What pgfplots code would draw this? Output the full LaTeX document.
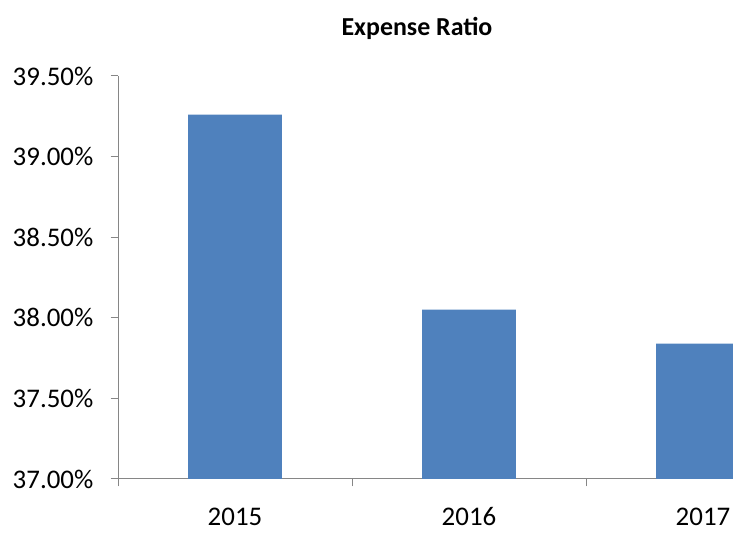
\documentclass[border=0pt]{standalone}
\usepackage{pgfplots}
\pgfplotsset{compat=1.18}
\usepackage{fontspec}
\setmainfont{Carlito}
\definecolor{barblue}{HTML}{4F81BD}
\definecolor{axisgray}{HTML}{868686}
\begin{document}
\begin{tikzpicture}[x=1bp,y=1bp]
\useasboundingbox (0,0) rectangle (733,533);
\clip (0,0) rectangle (733,533);
\begin{axis}[
  at={(118bp,54bp)}, anchor=south west,
  scale only axis, width=702bp, height=403bp,
  xmin=-0.5, xmax=2.5, ymin=37, ymax=39.5,
  axis x line*=bottom, axis y line*=left,
  axis line style={axisgray, line width=1bp},
  ytick={37,37.5,38,38.5,39,39.5},
  yticklabels={37.00\%,37.50\%,38.00\%,38.50\%,39.00\%,39.50\%},
  xtick={-0.5,0.5,1.5,2.5},
  xticklabels={2015,2016,2017},
  x tick label as interval,
  tick align=outside,
  major tick length=7.5bp,
  tick style={axisgray, line width=1bp},
  y tick label style={font=\fontsize{27}{30}\selectfont, inner sep=0pt, text=black, xshift=-17bp},
  x tick label style={font=\fontsize{27}{30}\selectfont, inner sep=0pt, text=black, yshift=-21bp},
]
\addplot[ybar, bar width=0.4, fill=barblue, draw=none] coordinates {(0,39.26) (1,38.05) (2,37.84)};
\end{axis}
\node[font=\bfseries\fontsize{26}{30}\selectfont, anchor=base] at (417,497) {Expense Ratio};
\end{tikzpicture}
\end{document}
